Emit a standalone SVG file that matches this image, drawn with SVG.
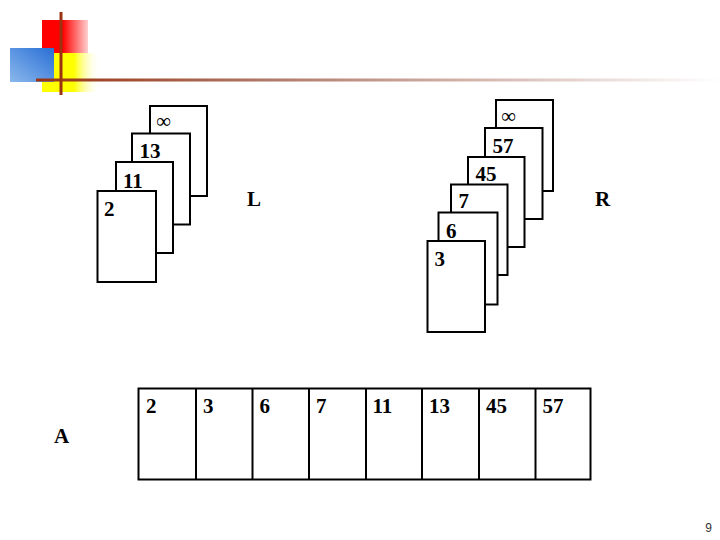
<svg xmlns="http://www.w3.org/2000/svg" width="720" height="540" viewBox="0 0 720 540">
<defs>
<linearGradient id="gRed" x1="0" y1="0" x2="1" y2="0">
<stop offset="0" stop-color="#ff0000"/><stop offset="0.45" stop-color="#ff0000"/><stop offset="1" stop-color="#ffd0d0"/>
</linearGradient>
<linearGradient id="gYel" x1="0" y1="0" x2="1" y2="0">
<stop offset="0" stop-color="#ffff00"/><stop offset="0.55" stop-color="#ffff00"/><stop offset="1" stop-color="#ffffff" stop-opacity="0"/>
</linearGradient>
<linearGradient id="gBlue" x1="1" y1="0" x2="0" y2="1">
<stop offset="0" stop-color="#2a6fd6"/><stop offset="1" stop-color="#8ab8ec"/>
</linearGradient>
<linearGradient id="gLine" x1="0" y1="0" x2="1" y2="0">
<stop offset="0" stop-color="#993311"/><stop offset="0.35" stop-color="#b07a6a"/><stop offset="1" stop-color="#ffffff"/>
</linearGradient>
<style>
.card{fill:#fff;stroke:#000;stroke-width:2}
.t{font-family:"Liberation Serif","Times New Roman",serif;font-size:21px;font-weight:bold;fill:#000}
.inf{font-family:"Liberation Serif","Times New Roman",serif;font-size:21px;fill:#000}
</style>
</defs>
<rect width="720" height="540" fill="#fff"/>
<g id="logo">
<rect x="42" y="20" width="46" height="33" fill="url(#gRed)"/>
<rect x="42" y="53" width="58" height="39" fill="url(#gYel)"/>
<rect x="10" y="48" width="44" height="34" fill="url(#gBlue)"/>
<rect x="36" y="78.5" width="684" height="3" fill="url(#gLine)"/>
<rect x="59.5" y="12" width="3" height="83" fill="#993311"/>
</g>
<g id="stackL">
<rect class="card" x="150" y="106" width="57" height="90"/>
<rect class="card" x="132" y="133.5" width="58" height="91"/>
<rect class="card" x="116" y="162" width="57" height="91"/>
<rect class="card" x="97.5" y="191" width="58.5" height="91"/>
<text class="inf" x="156" y="128">∞</text>
<text class="t" x="139.5" y="158">13</text>
<text class="t" x="123" y="187.5">11</text>
<text class="t" x="104" y="215.5">2</text>
</g>
<g id="stackR">
<rect class="card" x="496" y="100" width="57" height="91"/>
<rect class="card" x="485" y="128" width="57.5" height="91"/>
<rect class="card" x="468" y="157" width="56.5" height="90"/>
<rect class="card" x="451" y="184.5" width="56.5" height="90.5"/>
<rect class="card" x="438.5" y="212.5" width="59" height="92"/>
<rect class="card" x="427.5" y="241" width="57.5" height="91"/>
<text class="inf" x="501" y="123">∞</text>
<text class="t" x="492.5" y="153">57</text>
<text class="t" x="475.5" y="181">45</text>
<text class="t" x="458.5" y="208">7</text>
<text class="t" x="446" y="237.5">6</text>
<text class="t" x="434.5" y="265.5">3</text>
</g>
<g id="labels">
<text class="t" x="247" y="206">L</text>
<text class="t" x="595" y="206">R</text>
<text class="t" x="54" y="443">A</text>
</g>
<g id="arrayA">
<rect class="card" x="138.5" y="388.5" width="452" height="91"/>
<g stroke="#000" stroke-width="2">
<line x1="196" y1="388.5" x2="196" y2="479.5"/>
<line x1="252.5" y1="388.5" x2="252.5" y2="479.5"/>
<line x1="309" y1="388.5" x2="309" y2="479.5"/>
<line x1="366" y1="388.5" x2="366" y2="479.5"/>
<line x1="422" y1="388.5" x2="422" y2="479.5"/>
<line x1="479" y1="388.5" x2="479" y2="479.5"/>
<line x1="535.5" y1="388.5" x2="535.5" y2="479.5"/>
</g>
<text class="t" x="146" y="412.5">2</text>
<text class="t" x="203" y="412.5">3</text>
<text class="t" x="259.5" y="412.5">6</text>
<text class="t" x="316" y="412.5">7</text>
<text class="t" x="372.5" y="412.5">11</text>
<text class="t" x="429" y="412.5">13</text>
<text class="t" x="486" y="412.5">45</text>
<text class="t" x="542.5" y="412.5">57</text>
</g>
<text x="712" y="531.5" font-family="Liberation Sans, Arial, sans-serif" font-size="12" fill="#333" text-anchor="end">9</text>
</svg>
